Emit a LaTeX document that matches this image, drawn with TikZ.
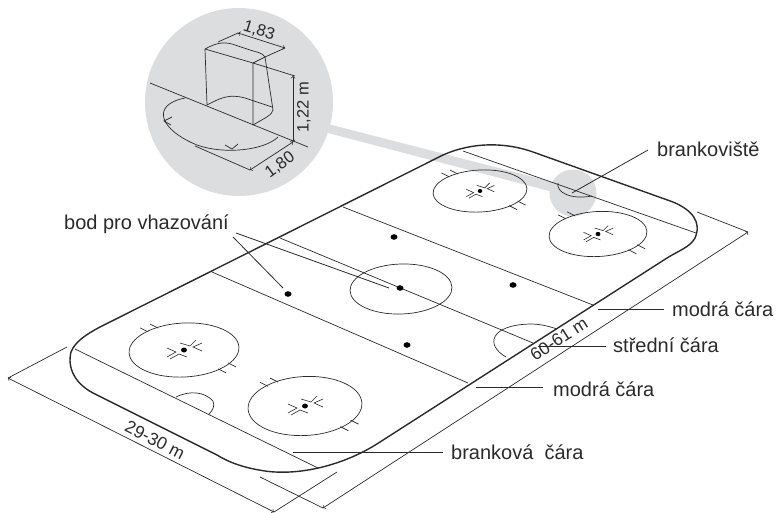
\documentclass[tikz,border=0pt]{standalone}
\usepackage{fontspec}
\usetikzlibrary{shapes.geometric}
\setmainfont{Liberation Sans}
\definecolor{gr}{HTML}{DCDDDE}
\definecolor{ink}{HTML}{2A2A2A}
\tikzset{
 thin line/.style={draw=ink,line width=0.7pt},
 rink line/.style={draw=ink,line width=1.4pt},
 lead/.style={draw=ink,line width=0.8pt},
 lab/.style={text=ink,font=\fontsize{20}{24}\selectfont,inner sep=0pt,anchor=base west},
 dim/.style={text=ink,font=\fontsize{17.5}{21}\selectfont,inner sep=0pt},
 dimsmall/.style={text=ink,font=\fontsize{16.5}{20}\selectfont,inner sep=0pt},
 spot/.style={ellipse,fill=black,inner sep=0pt,minimum width=7pt,minimum height=5.6pt}
}
\newcommand{\faceoff}[5]{% cx cy rx ry scale
 \begin{scope}[shift={(#1,#2)}]
  \draw[thin line] (0,0) ellipse [x radius=#3,y radius=#4,rotate=3];
  \fill[black] (0,0) ellipse [x radius=2.9*#5,y radius=2.5*#5];
  \begin{scope}[x=#5pt,y=-#5pt]
  \draw[thin line,line width=0.6pt]
   (-4,-7)--(6,-4)--(12,-10) (18,-7)--(9,-3)--(18,1)
   (-17,-2)--(-8,2)--(-17,7) (-14,9)--(-5,4)--(3,7);
  \end{scope}
  \draw[thin line] (-#3*0.65,-#4*0.67)--++(-8,-4) (-#3*0.47,-#4*0.81)--++(-8,-4)
   (#3*0.62,#4*0.70)--++(8,4) (#3*0.80,#4*0.48)--++(8,4);
 \end{scope}}
\begin{document}
\begin{tikzpicture}[x=1pt,y=-1pt]
\useasboundingbox (0,0) rectangle (776,512);
% grey
\fill[gr] (239,102) circle [radius=94];
\fill[gr] (328,124) -- (553,182) -- (553,192) -- (328,133) -- cycle;
\fill[gr] (573,193) circle [radius=23.5];
% rink
\draw[rink line] (100,327) -- (443,155) .. controls (472,142) and (505,142) .. (533,152)
 -- (673,202) .. controls (692,210) and (702,222) .. (695,238) .. controls (690,247) and (680,250) .. (667,258)
 -- (380,442) .. controls (345,465) and (300,476) .. (265,471) .. controls (245,468) and (230,463) .. (217,455)
 -- (97,395) .. controls (75,385) and (67,368) .. (71,352) .. controls (75,342) and (85,335) .. (100,327) -- cycle;
\coordinate (gt1) at (463,151); \coordinate (gt2) at (696,233);
\draw[thin line] (gt1) -- (gt2);
\draw[thin line] (75,349) -- (318,468);
\draw[thin line] (343,207) -- (593,305);
\draw[thin line] (212,272) -- (468,383);
\draw[thin line] (280,238) -- (533,343);
% creases
\draw[thin line] (176,397) .. controls (190,390) and (205,392) .. (213,401) .. controls (215,406) and (213,410) .. (209,414);
\draw[thin line] (558,183) .. controls (556,192) and (570,200) .. (592,196);
\draw[thin line] (506,357) .. controls (485,345) and (490,325) .. (530,324) .. controls (540,324) and (548,326) .. (557,329);
% face-off
\faceoff{184}{350}{55}{27}{1}
\faceoff{305}{406}{57}{29.5}{1}
\faceoff{480}{191}{47}{21}{0.8}
\faceoff{598}{234}{49}{22.5}{0.85}
\draw[thin line] (401,289) ellipse [x radius=51,y radius=25,rotate=2];
\node[spot] (s0) at (400,288) {};
\node[spot] (s1) at (394,237) {};
\node[spot] (s2) at (513,285) {};
\node[spot] (s3) at (407,345) {};
\node[spot] (s4) at (288,294) {};
% inset
\draw[thin line] (150,83) -- (308,147);
\draw[thin line] (185,98) .. controls (150,105) and (160,130) .. (197,145) .. controls (225,155) and (265,150) .. (278,137);
\draw[thin line] (172,117)--(164,121)--(171,125) (225,145)--(232,149)--(238,144);
\draw[thin line] (205,49) -- (253,63) -- (265,57) .. controls (262,52) and (255,52) .. (250,50)
 -- (238,46) .. controls (225,41) and (218,42) .. (205,49);
\draw[thin line] (205,49) -- (207,105) (253,63) -- (253,125);
\draw[thin line] (207,105) .. controls (222,97) and (230,94) .. (245,98) -- (272,107)
 (265,57) -- (273,110) .. controls (272,115) and (265,118) .. (253,125);
% dims
\coordinate (a83) at (238,33); \coordinate (b83) at (285,48);
\draw[thin line] (218,42) -- (a83) (b83) -- (265,57);
\draw[thin line,<->,>=to] (a83) -- (b83);
\draw[thin line] (253,63) -- (295,76);
\draw[thin line,<->,>=to] (293,76) -- (293,142);
\draw[thin line,<->,>=to] (293,142) -- (250,170);
\draw[thin line] (195,146) -- (250,170);
\node[dimsmall,rotate=-17] (d83) at (259,31) {1,83};
\node[dimsmall,rotate=90] (d122) at (304,107) {1,22 m};
\node[dimsmall,rotate=36] (d180) at (280,165) {1,80};
% big dims
\coordinate (w1) at (8,378); \coordinate (w2) at (274,512);
\draw[thin line] (67,347) -- (w1) (337,472) -- (w2);
\draw[thin line,<->,>=to] (w1) -- (w2);
\coordinate (l1) at (323,508); \coordinate (l2) at (748,232);
\draw[thin line] (260,477) -- (l1) (697,212) -- (l2);
\draw[thin line,<->,>=to] (l1) -- (l2);
\node[dim,rotate=-27] (t29) at (155,440) {29-30 m};
\node[dim,rotate=32.5] (t60) at (559,339) {60-61 m};
% labels
\node[lab] (bk) at (657,156) {brankoviště};
\node[lab] (bod) at (64,229) {bod pro vhazování};
\node[lab] (m1) at (672,316) {modrá čára};
\node[lab] (st) at (613,352) {střední čára};
\node[lab] (m2) at (553,396) {modrá čára};
\node[lab] (bc) at (451,459) {branková\ \ čára};
\coordinate (ebk) at (572,193);
\draw[lead] (648,150) -- (ebk);
\coordinate (eb1) at (389,288); \coordinate (eb2) at (283,288);
\draw[lead] (236,233) -- (eb1) (233,237) -- (eb2);
\draw[lead] (598,309) -- (664,309);
\draw[lead] (538,346) -- (606,346);
\draw[lead] (476,387) -- (543,387);
\draw[lead] (293,452) -- (443,452);
\end{tikzpicture}
\end{document}
